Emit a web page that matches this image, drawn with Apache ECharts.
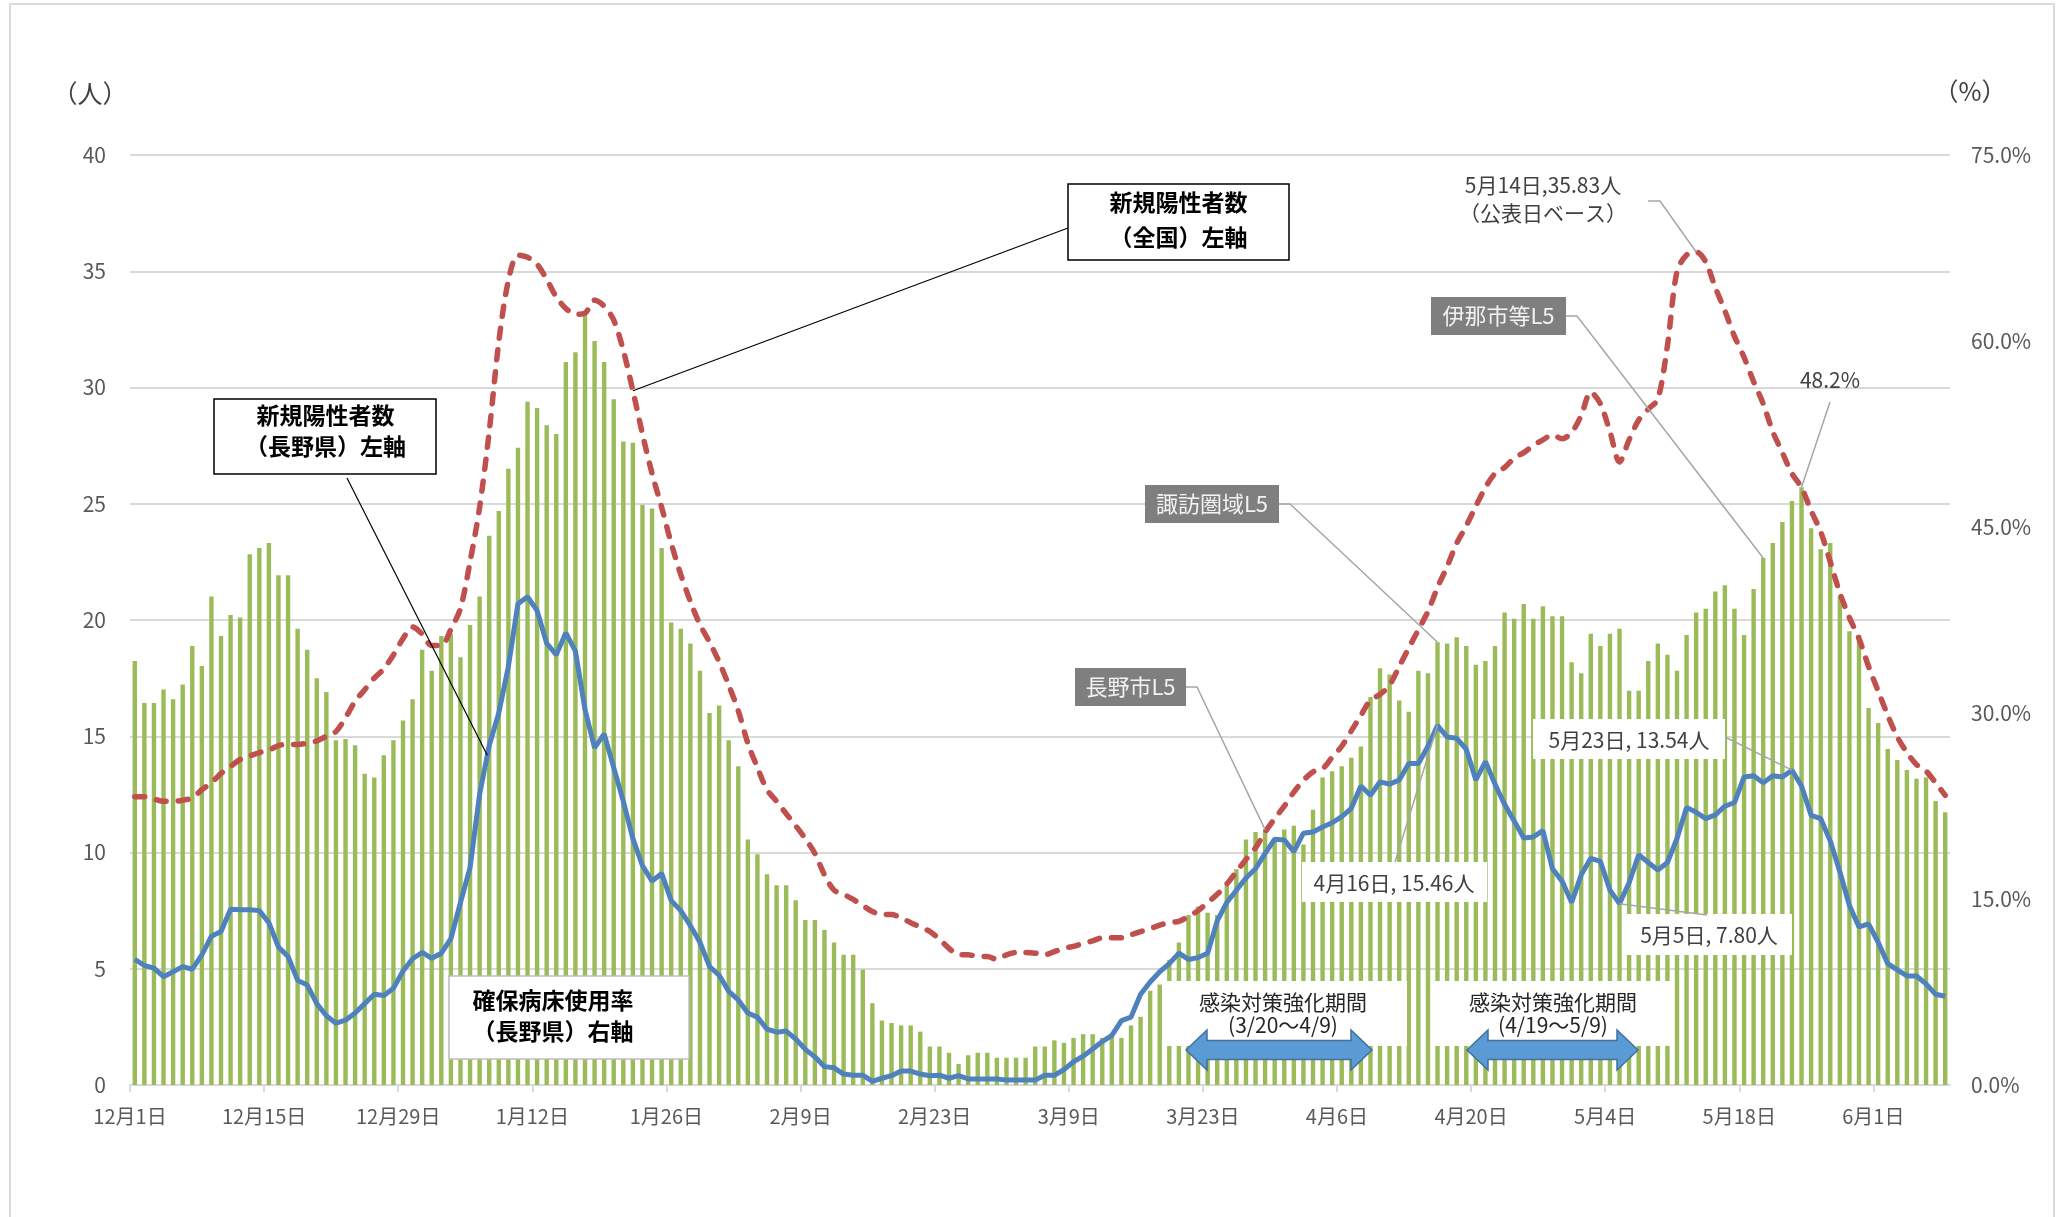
<!DOCTYPE html>
<html lang="ja">
<head>
    <meta charset="UTF-8">
    <title>確保病床使用率と新規陽性者数</title>
    <script src="https://cdn.jsdelivr.net/npm/echarts@6/dist/echarts.min.js"></script>
    <style>
        html, body { margin: 0; padding: 0; background: #fff; }
        #chart { width: 2069px; height: 1217px; }
    </style>
</head>
<body>
<div id="chart"></div>
<script>
// x軸の目盛ラベル（12月1日から14日ごと）
var xLabels = ['12月1日', '12月15日', '12月29日', '1月12日', '1月26日', '2月9日', '2月23日',
    '3月9日', '3月23日', '4月6日', '4月20日', '5月4日', '5月18日', '6月1日'];

// 確保病床使用率（長野県）右軸 %  12/1 〜 6/8
var bedRate = [
    34.2, 30.8, 30.8, 31.9, 31.1, 32.3, 35.4, 33.8, 39.4, 36.2,
    37.9, 37.7, 42.8, 43.3, 43.7, 41.1, 41.1, 36.8, 35.1, 32.8,
    31.7, 27.8, 27.9, 27.4, 25.1, 24.8, 26.6, 27.8, 29.4, 31.1,
    35.1, 33.4, 36.2, 36.4, 34.5, 37.1, 39.4, 44.3, 46.3, 49.7,
    51.4, 55.1, 54.6, 53.2, 52.5, 58.3, 59.1, 62.1, 60.0, 58.3,
    55.3, 51.9, 51.8, 46.8, 46.5, 43.3, 37.3, 36.8, 35.6, 33.4,
    30.0, 30.6, 27.8, 25.7, 19.8, 18.6, 17.0, 16.1, 16.1, 14.9,
    13.3, 13.3, 12.5, 11.5, 10.5, 10.5, 9.3, 6.6, 5.2, 5.0,
    4.8, 4.8, 4.3, 3.1, 3.1, 2.6, 1.7, 2.4, 2.6, 2.6,
    2.2, 2.2, 2.2, 2.2, 3.1, 3.1, 3.6, 3.4, 3.8, 4.1,
    4.1, 3.8, 4.1, 3.8, 4.8, 5.5, 7.6, 8.1, 10.1, 11.5,
    13.7, 14.4, 13.9, 13.7, 16.4, 17.4, 19.8, 20.4, 20.6, 19.9,
    20.6, 20.9, 19.4, 22.2, 24.8, 25.3, 25.7, 26.4, 27.3, 31.3,
    33.6, 33.1, 31.0, 30.1, 33.4, 33.2, 35.7, 35.6, 36.1, 35.4,
    33.9, 34.2, 35.4, 38.1, 37.6, 38.8, 37.6, 38.6, 37.8, 37.8,
    34.1, 33.2, 36.4, 35.4, 36.4, 36.8, 31.8, 31.8, 34.2, 35.6,
    34.7, 33.4, 36.3, 38.1, 38.4, 39.8, 40.3, 38.4, 36.3, 40.0,
    42.5, 43.7, 45.4, 47.1, 48.2, 44.9, 43.2, 43.7, 39.4, 36.6,
    36.3, 30.4, 29.2, 27.1, 26.2, 25.4, 24.7, 24.8, 22.9, 22.0
];

// 新規陽性者数（全国）左軸
var nationalCases = [
    12.4, 12.4, 12.3, 12.2, 12.2, 12.25, 12.35, 12.7, 13.0, 13.4,
    13.7, 14.0, 14.15, 14.3, 14.4, 14.6, 14.65, 14.65, 14.7, 14.8,
    15.0, 15.2, 15.8, 16.5, 17.0, 17.5, 17.9, 18.5, 19.2, 19.7,
    19.4, 18.9, 18.9, 19.6, 20.5, 22.5, 24.85, 28.1, 31.96, 34.6,
    35.7, 35.6, 35.3, 34.65, 33.9, 33.4, 33.15, 33.2, 33.75, 33.5,
    32.9, 31.6, 29.86, 28.0, 26.3, 24.85, 23.3, 21.95, 20.8, 19.8,
    19.05, 18.2, 17.2, 16.1, 14.7, 13.65, 12.7, 12.2, 11.67, 11.15,
    10.6, 9.96, 9.04, 8.38, 8.2, 7.98, 7.72, 7.46, 7.33, 7.33,
    7.19, 6.98, 6.8, 6.6, 6.27, 5.88, 5.6, 5.6, 5.53, 5.53,
    5.4, 5.6, 5.7, 5.7, 5.67, 5.6, 5.74, 5.88, 5.96, 6.09,
    6.2, 6.33, 6.33, 6.33, 6.46, 6.6, 6.72, 6.88, 6.98, 7.04,
    7.25, 7.5, 7.85, 8.2, 8.64, 9.17, 9.7, 10.2, 10.88, 11.46,
    11.99, 12.6, 13.1, 13.47, 13.6, 14.1, 14.57, 15.23, 15.9, 16.55,
    16.8, 17.2, 18.0, 18.8, 19.58, 20.37, 21.4, 22.3, 23.3, 24.05,
    24.9, 25.7, 26.3, 26.56, 26.96, 27.2, 27.5, 27.75, 27.96, 27.8,
    28.06, 28.8, 29.8, 29.3, 28.1, 26.8, 27.75, 28.6, 29.07, 29.5,
    31.8, 35.0, 35.7, 35.83, 35.4, 34.3, 33.3, 32.2, 31.3, 30.25,
    29.3, 28.1, 27.2, 26.3, 25.7, 24.7, 23.8, 22.5, 21.16, 20.1,
    19.2, 18.0, 16.94, 15.9, 14.97, 14.3, 13.78, 13.5, 13.0, 12.46
];

// 新規陽性者数（長野県）左軸
var naganoCases = [
    5.4, 5.14, 5.03, 4.66, 4.87, 5.09, 4.98, 5.6, 6.4, 6.6,
    7.56, 7.54, 7.54, 7.5, 6.98, 5.93, 5.53, 4.5, 4.3, 3.5,
    2.98, 2.66, 2.79, 3.1, 3.5, 3.9, 3.85, 4.16, 4.9, 5.43,
    5.7, 5.45, 5.67, 6.3, 7.85, 9.35, 12.5, 14.6, 16.0, 18.0,
    20.7, 21.0, 20.4, 19.0, 18.5, 19.45, 18.66, 16.15, 14.5, 15.1,
    13.65, 12.2, 10.6, 9.43, 8.77, 9.1, 7.93, 7.5, 6.85, 6.14,
    5.09, 4.72, 4.03, 3.66, 3.1, 2.92, 2.4, 2.27, 2.32, 1.98,
    1.53, 1.21, 0.79, 0.74, 0.47, 0.42, 0.42, 0.16, 0.29, 0.4,
    0.6, 0.6, 0.47, 0.4, 0.42, 0.29, 0.4, 0.26, 0.26, 0.26,
    0.26, 0.21, 0.21, 0.21, 0.21, 0.42, 0.42, 0.66, 1.0, 1.24,
    1.55, 1.87, 2.13, 2.77, 2.92, 3.9, 4.43, 4.87, 5.22, 5.67,
    5.4, 5.48, 5.67, 7.06, 7.85, 8.38, 8.9, 9.3, 9.96, 10.57,
    10.54, 10.04, 10.83, 10.88, 11.1, 11.28, 11.54, 11.9, 12.86, 12.46,
    13.04, 12.94, 13.12, 13.83, 13.83, 14.57, 15.46, 14.97, 14.91, 14.44,
    13.12, 13.91, 12.94, 12.07, 11.36, 10.62, 10.67, 10.94, 9.3, 8.77,
    7.85, 9.04, 9.75, 9.62, 8.38, 7.80, 8.7, 9.9, 9.57, 9.25,
    9.57, 10.6, 11.94, 11.73, 11.46, 11.62, 11.99, 12.15, 13.25, 13.3,
    13.0, 13.3, 13.25, 13.54, 12.86, 11.6, 11.46, 10.49, 9.17, 7.72,
    6.8, 6.93, 6.14, 5.22, 4.95, 4.69, 4.69, 4.35, 3.9, 3.82
];

var FONT = '"Noto Sans CJK JP", "Noto Sans", sans-serif';

function toPoints(arr) {
    return arr.map(function (v, i) { return [i, v]; });
}

// 目盛は日付の区切り（各日の左端）に置く
var tickValues = xLabels.map(function (_, k) { return k * 14 - 0.5; });

var chart = echarts.init(document.getElementById('chart'));

chart.setOption({
    animation: false,
    grid: { left: 130, right: 119, top: 155, bottom: 132, containLabel: false },
    xAxis: {
        type: 'value',
        min: -0.5,
        max: bedRate.length - 0.5,
        interval: 14,
        splitLine: { show: false },
        axisLine: { show: true, lineStyle: { color: '#D9D9D9', width: 2 } },
        axisTick: { show: true, length: 7, customValues: tickValues, lineStyle: { color: '#D9D9D9', width: 2 } },
        axisLabel: {
            customValues: tickValues,
            margin: 21,
            color: '#595959',
            fontSize: 20,
            fontFamily: FONT,
            formatter: function (v) {
                var k = Math.round((v + 0.5) / 14);
                return xLabels[k] || '';
            }
        }
    },
    yAxis: [
        {
            type: 'value', min: 0, max: 40, interval: 5,
            axisLine: { show: false }, axisTick: { show: false },
            splitLine: { lineStyle: { color: '#D9D9D9', width: 2 } },
            axisLabel: { margin: 24, color: '#595959', fontSize: 21, fontFamily: FONT }
        },
        {
            type: 'value', min: 0, max: 75, interval: 15, position: 'right',
            axisLine: { show: false }, axisTick: { show: false },
            splitLine: { show: false },
            axisLabel: {
                margin: 21, color: '#595959', fontSize: 21, fontFamily: FONT,
                formatter: function (v) { return v.toFixed(1) + '%'; }
            }
        }
    ],
    series: [
        {
            name: '確保病床使用率（長野県）',
            type: 'bar',
            yAxisIndex: 1,
            barWidth: 4.4,
            itemStyle: { color: '#9BBB59' },
            data: toPoints(bedRate)
        },
        {
            name: '新規陽性者数（長野県）',
            type: 'line',
            yAxisIndex: 0,
            symbol: 'none',
            lineStyle: { color: '#4F81BD', width: 5 },
            data: toPoints(naganoCases)
        },
        {
            name: '新規陽性者数（全国）',
            type: 'line',
            yAxisIndex: 0,
            symbol: 'none',
            smooth: 0.3,
            lineStyle: { color: '#C0504D', width: 5.5, type: [10, 12], cap: 'round' },
            data: toPoints(nationalCases)
        }
    ]
});

// 注記（ボックス・引き出し線・矢印）
function px(x, y, axis) {
    return chart.convertToPixel({ xAxisIndex: 0, yAxisIndex: axis }, [x, y]);
}

var g = [];
var Z = 50;

function rect(x, y, w, h, fill, stroke) {
    g.push({ type: 'rect', z: Z, silent: true, shape: { x: x, y: y, width: w, height: h },
        style: { fill: fill, stroke: stroke || null, lineWidth: stroke ? 1.5 : 0 } });
}
function text(s, x, y, font, color, lh) {
    g.push({ type: 'text', z: Z + 1, silent: true,
        style: { text: s, x: x, y: y, font: font, fill: color, textAlign: 'center',
            textVerticalAlign: 'middle', verticalAlign: 'middle', lineHeight: lh || 30 } });
}
function line(points, color, w) {
    g.push({ type: 'polyline', z: Z + 2, silent: true, shape: { points: points },
        style: { stroke: color, lineWidth: w || 1.3, fill: null } });
}
function arrow(x0, x1, yc) {
    var h = 20, b = 9.5, hl = 21;
    g.push({ type: 'polygon', z: Z + 2, silent: true,
        shape: { points: [[x0, yc], [x0 + hl, yc - h], [x0 + hl, yc - b], [x1 - hl, yc - b], [x1 - hl, yc - h],
            [x1, yc], [x1 - hl, yc + h], [x1 - hl, yc + b], [x0 + hl, yc + b], [x0 + hl, yc + h]] },
        style: { fill: '#5B9BD5', stroke: '#41719C', lineWidth: 1.5 } });
}

var boldFont = 'bold 23px ' + FONT;
var labelFont = '21px ' + FONT;
var greyFont = '22px ' + FONT;

// 外枠
g.push({ type: 'rect', z: 0, silent: true, shape: { x: 10, y: 4, width: 2044, height: 1240 },
    style: { fill: 'transparent', stroke: '#D9D9D9', lineWidth: 2 } });

// 軸の単位
text('（人）', 90, 93, '25px ' + FONT, '#404040');
text('（%）', 1970, 91, '25px ' + FONT, '#404040');

// 新規陽性者数（全国）左軸
rect(1068, 184, 221, 76, '#fff', '#000');
text('新規陽性者数\n（全国）左軸', 1178.5, 220, boldFont, '#000', 35);
line([[1068, 228], px(52, nationalCases[52], 0)], '#000', 1.2);

// 新規陽性者数（長野県）左軸
rect(214, 399, 222, 75, '#fff', '#000');
text('新規陽性者数\n（長野県）左軸', 325.5, 431, boldFont, '#000', 31);
var t = 0.8;
line([[347, 478], px(36 + t, naganoCases[36] + t * (naganoCases[37] - naganoCases[36]), 0)], '#000', 1.2);

// 確保病床使用率（長野県）右軸
rect(449, 976, 240, 83, '#fff', '#BFBFBF');
text('確保病床使用率\n（長野県）右軸', 553, 1016, boldFont, '#000', 31);

// 感染対策強化期間
rect(1167, 981, 240, 65, '#fff');
text('感染対策強化期間', 1283, 1002, labelFont, '#262626');
text('(3/20～4/9)', 1283, 1025, labelFont, '#262626');
arrow(1186, 1372, 1050);

rect(1435, 981, 235, 65, '#fff');
text('感染対策強化期間', 1553, 1002, labelFont, '#262626');
text('(4/19～5/9)', 1553, 1025, labelFont, '#262626');
arrow(1467, 1638, 1050);

// L5 ラベル（灰色）
rect(1075, 668, 111, 38, '#7F7F7F');
text('長野市L5', 1130.5, 687, greyFont, '#F2F2F2');
line([[1186, 687], [1197, 687], px(118, bedRate[118], 1)], '#A6A6A6', 1.5);

rect(1145, 485, 134, 38, '#7F7F7F');
text('諏訪圏域L5', 1212, 504, greyFont, '#F2F2F2');
line([[1279, 504], [1290, 504], px(136, bedRate[136], 1)], '#A6A6A6', 1.5);

rect(1431, 297, 135, 38, '#7F7F7F');
text('伊那市等L5', 1498.5, 316, greyFont, '#F2F2F2');
line([[1566, 316], [1577, 316], px(170, bedRate[170], 1)], '#A6A6A6', 1.5);

// データラベル
text('5月14日,35.83人\n（公表日ベース）', 1543, 199, labelFont, '#404040', 28);
line([[1648, 201], [1660, 201], px(163, nationalCases[163], 0)], '#A6A6A6', 1.5);

text('48.2%', 1830, 380, labelFont, '#404040');
line([[1830, 402], px(174, bedRate[174], 1)], '#A6A6A6', 1.5);

rect(1302, 862, 185, 40, '#fff');
text('4月16日, 15.46人', 1394, 883, labelFont, '#404040');
line([[1395, 862], px(136, naganoCases[136], 0)], '#A6A6A6', 1.5);

rect(1533, 719, 192, 40, '#fff');
text('5月23日, 13.54人', 1629, 740, labelFont, '#404040');
line([[1725, 737], px(173, naganoCases[173], 0)], '#A6A6A6', 1.5);

rect(1626, 914, 166, 41, '#fff');
text('5月5日, 7.80人', 1709, 935, labelFont, '#404040');
line([px(155, naganoCases[155], 0), [1707, 915]], '#A6A6A6', 1.5);

chart.setOption({ graphic: { elements: g } });
</script>
</body>
</html>
